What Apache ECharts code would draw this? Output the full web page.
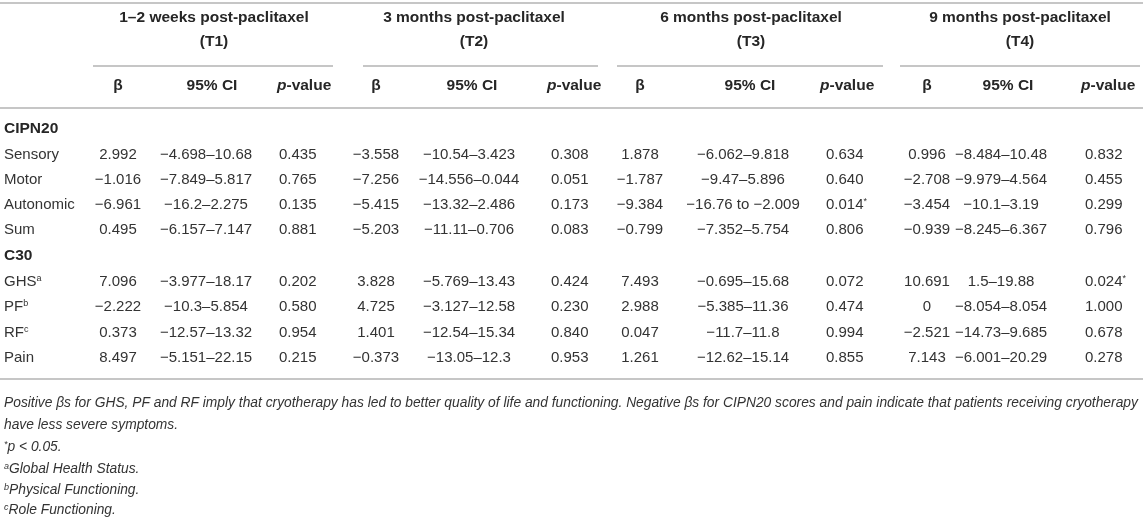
<!DOCTYPE html>
<html style="height: 100%">
<head>
<meta charset="utf-8">
</head>
<body style="height: 100%; margin: 0; background: #fff">
<div id="container" style="width:1143px; height:517px"></div>
<script src="https://cdn.jsdelivr.net/npm/echarts@6/dist/echarts.min.js"></script>
<script type="text/javascript">
// ---- data ----
var timepoints = ['1–2 weeks post-paclitaxel', '3 months post-paclitaxel', '6 months post-paclitaxel', '9 months post-paclitaxel'];
var timeCodes = ['(T1)', '(T2)', '(T3)', '(T4)'];
var subHeads = ['β', '95% CI', 'p-value'];
var sections = ['CIPN20', 'C30'];
var cipnRows = ['Sensory', 'Motor', 'Autonomic', 'Sum'];
var c30Rows = ['GHS', 'PF', 'RF', 'Pain'];
var c30Notes = ['a', 'b', 'c', ''];

// rows: Sensory, Motor, Autonomic, Sum, GHS, PF, RF, Pain
var betaT1 = ['2.992', '−1.016', '−6.961', '0.495', '7.096', '−2.222', '0.373', '8.497'];
var ciT1 = ['−4.698–10.68', '−7.849–5.817', '−16.2–2.275', '−6.157–7.147', '−3.977–18.17', '−10.3–5.854', '−12.57–13.32', '−5.151–22.15'];
var pT1 = ['0.435', '0.765', '0.135', '0.881', '0.202', '0.580', '0.954', '0.215'];

var betaT2 = ['−3.558', '−7.256', '−5.415', '−5.203', '3.828', '4.725', '1.401', '−0.373'];
var ciT2 = ['−10.54–3.423', '−14.556–0.044', '−13.32–2.486', '−11.11–0.706', '−5.769–13.43', '−3.127–12.58', '−12.54–15.34', '−13.05–12.3'];
var pT2 = ['0.308', '0.051', '0.173', '0.083', '0.424', '0.230', '0.840', '0.953'];

var betaT3 = ['1.878', '−1.787', '−9.384', '−0.799', '7.493', '2.988', '0.047', '1.261'];
var ciT3 = ['−6.062–9.818', '−9.47–5.896', '−16.76 to −2.009', '−7.352–5.754', '−0.695–15.68', '−5.385–11.36', '−11.7–11.8', '−12.62–15.14'];
var pT3 = ['0.634', '0.640', '0.014*', '0.806', '0.072', '0.474', '0.994', '0.855'];

var betaT4 = ['0.996', '−2.708', '−3.454', '−0.939', '10.691', '0', '−2.521', '7.143'];
var ciT4 = ['−8.484–10.48', '−9.979–4.564', '−10.1–3.19', '−8.245–6.367', '1.5–19.88', '−8.054–8.054', '−14.73–9.685', '−6.001–20.29'];
var pT4 = ['0.832', '0.455', '0.299', '0.796', '0.024*', '1.000', '0.678', '0.278'];

var footnotes = [
    'Positive βs for GHS, PF and RF imply that cryotherapy has led to better quality of life and functioning. Negative βs for CIPN20 scores and pain indicate that patients receiving cryotherapy',
    'have less severe symptoms.',
    '*p < 0.05.',
    'aGlobal Health Status.',
    'bPhysical Functioning.',
    'cRole Functioning.'
];

// ---- layout (canvas units) ----
var W = 1143, H = 517;
var colBeta = [118, 376, 640, 927];
var colCI = [206, 469, 743, 1001];
var colP = [279, 551, 826, 1085];
var headCI = [212, 472, 750, 1008];
var headP = [277, 547, 820, 1081];
var groupMid = [214, 474, 751, 1020];
var groupSpan = [[93, 333], [363, 598], [617, 883], [900, 1140]];
var yHead1 = 18, yHead2 = 42, yGroupLine = 66, ySub = 86, yHeadRule = 108;
var ySection = [129, 256];
var yRowsCipn = [155, 180, 205, 230];
var yRowsC30 = [282, 307, 333, 358];
var yBottomRule = 379;
var yFoot = [403, 425, 447, 469, 490, 510];
var labelX = 4;

var betas = [betaT1, betaT2, betaT3, betaT4];
var cis = [ciT1, ciT2, ciT3, ciT4];
var ps = [pT1, pT2, pT3, pT4];

var FONT = '"Liberation Sans", Arial, Helvetica, sans-serif';
var rich = {
    b: {fontWeight: 'bold', fontSize: 15.5, fontFamily: FONT, fill: '#262626'},
    bi: {fontWeight: 'bold', fontStyle: 'italic', fontSize: 15.5, fontFamily: FONT, fill: '#262626'},
    n: {fontSize: 15, fontFamily: FONT, fill: '#333'},
    s: {fontSize: 9, fontFamily: FONT, fill: '#333', verticalAlign: 'top'},
    i: {fontStyle: 'italic', fontSize: 13.8, fontFamily: FONT, fill: '#333'},
    si: {fontSize: 9, fontStyle: 'italic', fontFamily: FONT, fill: '#333', verticalAlign: 'top'}
};

// ---- build cells ----
var cells = [];
function cell(x, y, text, align) {
    cells.push({x: x, y: y, text: text, align: align || 'center'});
}
function starred(v) {
    return v.slice(-1) === '*' ? '{n|' + v.slice(0, -1) + '}{s|*}' : '{n|' + v + '}';
}

timepoints.forEach(function (t, k) {
    cell(groupMid[k], yHead1, '{b|' + t + '}');
    cell(groupMid[k], yHead2, '{b|' + timeCodes[k] + '}');
    cell(colBeta[k], ySub, '{b|' + subHeads[0] + '}');
    cell(headCI[k], ySub, '{b|' + subHeads[1] + '}');
    cell(headP[k], ySub, '{bi|p}{b|-value}', 'left');
});

cell(labelX, ySection[0], '{b|' + sections[0] + '}', 'left');
cell(labelX, ySection[1], '{b|' + sections[1] + '}', 'left');

var rowYs = yRowsCipn.concat(yRowsC30);
cipnRows.forEach(function (r, i) {
    cell(labelX, yRowsCipn[i], '{n|' + r + '}', 'left');
});
c30Rows.forEach(function (r, i) {
    cell(labelX, yRowsC30[i], '{n|' + r + '}' + (c30Notes[i] ? '{s|' + c30Notes[i] + '}' : ''), 'left');
});
rowYs.forEach(function (y, i) {
    for (var k = 0; k < 4; k++) {
        cell(colBeta[k], y, '{n|' + betas[k][i] + '}');
        cell(colCI[k], y, '{n|' + cis[k][i] + '}');
        cell(colP[k], y, starred(ps[k][i]), 'left');
    }
});

cell(labelX, yFoot[0], '{i|' + footnotes[0] + '}', 'left');
cell(labelX, yFoot[1], '{i|' + footnotes[1] + '}', 'left');
cell(labelX, yFoot[2], '{si|*}{i|' + footnotes[2].slice(1) + '}', 'left');
for (var f = 3; f < 6; f++) {
    cell(labelX, yFoot[f], '{si|' + footnotes[f][0] + '}{i|' + footnotes[f].slice(1) + '}', 'left');
}

// ---- rules ----
var rules = [[0, 3, W], [0, yHeadRule, W], [0, yBottomRule, W]];
groupSpan.forEach(function (s) { rules.push([s[0], yGroupLine, s[1]]); });

var dom = document.getElementById('container');
var myChart = echarts.init(dom, null, {renderer: 'canvas'});

var option = {
    animation: false,
    backgroundColor: '#fff',
    grid: {left: 0, right: 0, top: 0, bottom: 0},
    xAxis: {type: 'value', min: 0, max: W, show: false},
    yAxis: {type: 'value', min: 0, max: H, inverse: true, show: false},
    series: [
        {
            type: 'custom',
            silent: true,
            encode: {x: [0, 2], y: 1},
            data: rules,
            renderItem: function (params, api) {
                var p1 = api.coord([api.value(0), api.value(1)]);
                var p2 = api.coord([api.value(2), api.value(1)]);
                return {
                    type: 'line',
                    shape: {x1: p1[0], y1: p1[1], x2: p2[0], y2: p2[1]},
                    style: {stroke: '#c6c6c6', lineWidth: 2}
                };
            }
        },
        {
            type: 'custom',
            silent: true,
            encode: {x: 0, y: 1},
            data: cells.map(function (c) { return [c.x, c.y]; }),
            renderItem: function (params, api) {
                var c = cells[params.dataIndex];
                var p = api.coord([api.value(0), api.value(1)]);
                return {
                    type: 'text',
                    x: p[0],
                    y: p[1],
                    style: {
                        text: c.text,
                        rich: rich,
                        fontSize: 15,
                        fontFamily: FONT,
                        fill: '#333',
                        align: c.align,
                        verticalAlign: 'middle'
                    }
                };
            }
        }
    ]
};

myChart.setOption(option);
</script>
</body>
</html>
